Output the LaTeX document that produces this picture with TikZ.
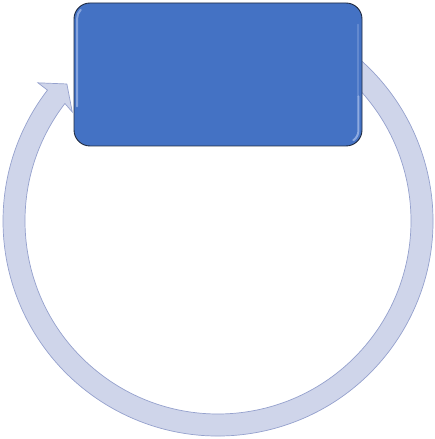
\documentclass[tikz,border=0pt]{standalone}
\usetikzlibrary{calc}
\definecolor{ringfill}{HTML}{CFD5EA}
\definecolor{ringline}{HTML}{95A1CD}
\definecolor{boxfill}{HTML}{4472C4}
\definecolor{boxhi}{HTML}{9DB6E6}
\definecolor{boxline}{HTML}{1F2A40}
\begin{document}
\begin{tikzpicture}[x=1pt,y=1pt,
  ringstyle/.style={fill=ringfill,draw=ringline,line width=0.7pt,line join=miter},
  boxstyle/.style={draw=boxline,fill=boxfill,line width=0.9pt,rounded corners=16pt,
    minimum width=288pt,minimum height=143pt,inner sep=0pt},
  hilite/.style={draw=boxhi,line width=2pt,line cap=round}]
\useasboundingbox (0,0) rectangle (435,439);
\coordinate (C) at (218,218);
% circular arrow
\draw[ringstyle]
  ([shift={(C)}]60:215) arc[start angle=60,end angle=-217.5,radius=215]
  -- ([shift={(C)}]142.5:227)
  -- ([shift={(C)}]137.8:204)
  -- ([shift={(C)}]143.2:182)
  -- ([shift={(C)}]142.5:193)
  arc[start angle=-217.5,end angle=60,radius=193] -- cycle;
% box
\node[boxstyle] (box) at (218,364.5) {};
\begin{scope}
  \clip[rounded corners=16pt] (box.south west) rectangle (box.north east);
  \draw[hilite,opacity=0.75] ([shift={(7.2,-7.2)}]box.north west)
     arc[start angle=135,end angle=180,radius=12.5] -- ([shift={(3.5,40)}]box.south west);
  \draw[hilite,opacity=0.35] ([shift={(-4,-22)}]box.north east) -- ([shift={(-4,50)}]box.south east);
  \draw[hilite,opacity=0.85] ([shift={(-4,50)}]box.south east) -- ([shift={(-4,16)}]box.south east)
     arc[start angle=0,end angle=-55,radius=12];
\end{scope}
\end{tikzpicture}
\end{document}
